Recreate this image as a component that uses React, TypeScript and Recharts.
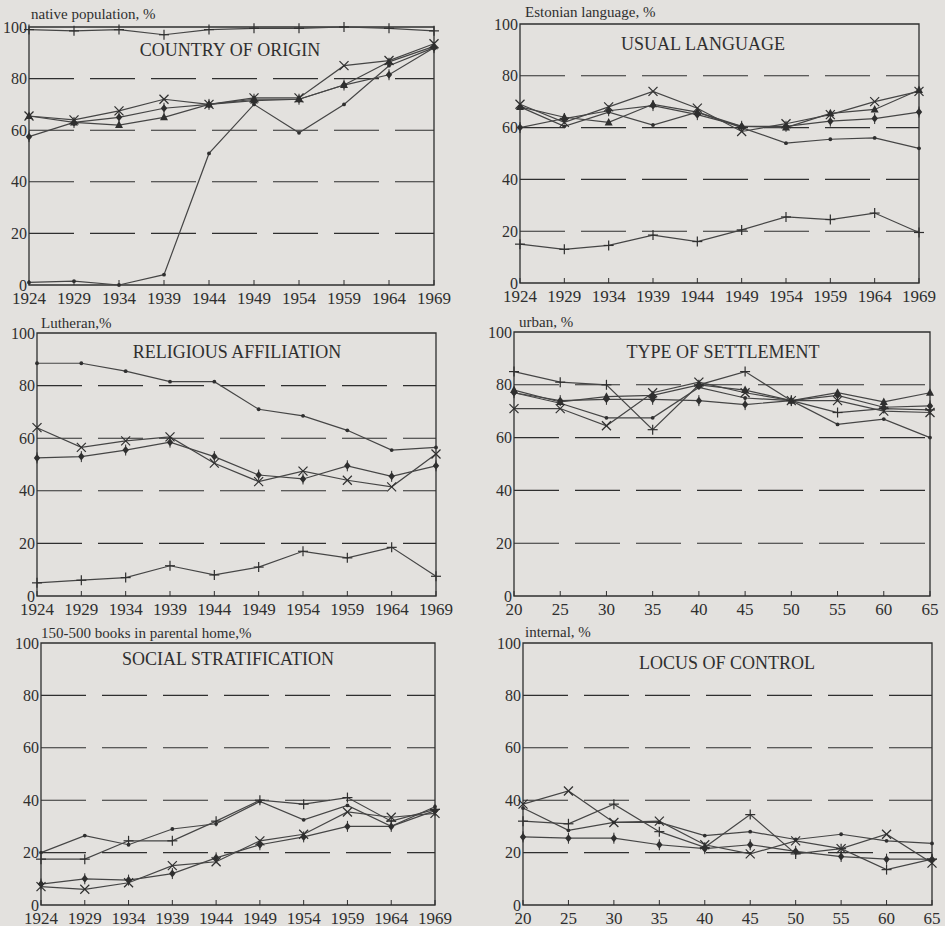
import React from 'react';
import { LineChart, Line, XAxis, YAxis, ReferenceLine, ReferenceArea } from 'recharts';

// ---- axis values ----
const YEARS = [1924, 1929, 1934, 1939, 1944, 1949, 1954, 1959, 1964, 1969];
const AGES = [20, 25, 30, 35, 40, 45, 50, 55, 60, 65];
const PCT_TICKS = [0, 20, 40, 60, 80, 100];
const GRID_LEVELS = [20, 40, 60, 80];

// ---- COUNTRY OF ORIGIN: native population, % ----
const originPlus = [99, 98.5, 99, 97, 99, 99.5, 99.5, 100, 99.5, 98.5];
const originDot = [1, 1.5, 0, 4, 51, 70, 59, 70, 85, 92];
const originCross = [65.5, 64, 67.5, 72, 70, 72.5, 72.5, 85, 87, 93.5];
const originDiamond = [57.5, 63, 65, 68.5, 70, 72, 72, 77.5, 81.5, 92];
const originTriangle = [65.5, 63, 62, 65, 70, 71.5, 72, 77.5, 86.5, 92.5];

// ---- USUAL LANGUAGE: Estonian language, % ----
const langPlus = [15, 13, 14.5, 18.5, 16, 20.5, 25.5, 24.5, 27, 19.5];
const langDot = [68, 60.5, 66, 61, 66, 60, 54, 55.5, 56, 52];
const langCross = [69, 62, 68, 74, 67.5, 58.5, 61.5, 65, 70, 74];
const langDiamond = [60, 63.5, 66.5, 68.5, 65, 60.5, 60.5, 62.5, 63.5, 66];
const langTriangle = [68, 64, 62, 69, 66, 60.5, 60, 65.5, 67, 74.5];

// ---- RELIGIOUS AFFILIATION: Lutheran, % ----
const relDot = [88.5, 88.5, 85.5, 81.5, 81.5, 71, 68.5, 63, 55.5, 56.5];
const relCross = [64, 56.5, 59, 60.5, 50.5, 43.5, 47.5, 44, 41.5, 54];
const relDiamond = [52.5, 53, 55.5, 58.5, 53, 46, 44.5, 49.5, 45.5, 49.5];
const relPlus = [5, 6, 7, 11.5, 8, 11, 17, 14.5, 18.5, 7.5];

// ---- TYPE OF SETTLEMENT: urban, % ----
const setPlus = [85, 81, 80, 63, 80, 85, 74, 69.5, 71, 70.5];
const setCross = [71, 71, 64.5, 77, 81, 77, 74, 74, 70, 69.5];
const setDot = [77, 73, 67.5, 67.5, 79, 75, 74, 65, 67, 60];
const setDiamond = [77, 74, 74.5, 74.5, 74, 72.5, 74, 76, 71.5, 72];
const setTriangle = [78, 73.5, 75.5, 76, 80, 78, 74, 77, 73.5, 77];

// ---- SOCIAL STRATIFICATION: 150-500 books in parental home, % ----
const socDot = [20, 26.5, 23, 29, 31, 39.5, 32.5, 38, 30, 37.5];
const socPlus = [17.5, 17.5, 24.5, 24.5, 32, 40, 38.5, 41, 32, 36.5];
const socCross = [7, 6, 8.5, 15, 16.5, 24.5, 27, 35.5, 33.5, 35];
const socDiamond = [8, 10, 9.5, 12, 18, 23, 26, 30, 30, 36];

// ---- LOCUS OF CONTROL: internal, % ----
const locCross = [38.5, 43.5, 31.5, 32, 23, 19.5, 24.5, 21.5, 27, 16];
const locPlus = [32, 31, 38.5, 28, 22, 34.5, 19.5, 21.5, 13.5, 17.5];
const locDot = [37, 28.5, 31.5, 31.5, 26.5, 28, 25, 27, 24.5, 23.5];
const locDiamond = [26, 25.5, 25.5, 23, 21.5, 23, 20.5, 18.5, 17.5, 17.5];

// ---- styling ----
const PAPER = '#e3e1de';
const INK = '#2f2f2f';
const LINE_INK = '#454545';
const SERIF = '"Liberation Serif", "Times New Roman", Times, serif';

type Marker = 'plus' | 'cross' | 'dot' | 'diamond' | 'triangle';
type Series = { key: string; marker: Marker; values: number[] };

function makeDot(kind: Marker) {
  return (p: any) => {
    const { cx, cy, index } = p;
    const k = `m-${kind}-${index}`;
    if (cx == null || cy == null || Number.isNaN(cx) || Number.isNaN(cy)) return <g key={k} />;
    switch (kind) {
      case 'plus':
        return (
          <g key={k} stroke={INK} strokeWidth={1.2}>
            <line x1={cx - 5} x2={cx + 5} y1={cy} y2={cy} />
            <line x1={cx} x2={cx} y1={cy - 5} y2={cy + 5} />
          </g>
        );
      case 'cross':
        return (
          <g key={k} stroke={INK} strokeWidth={1.2}>
            <line x1={cx - 4.5} x2={cx + 4.5} y1={cy - 4.5} y2={cy + 4.5} />
            <line x1={cx - 4.5} x2={cx + 4.5} y1={cy + 4.5} y2={cy - 4.5} />
          </g>
        );
      case 'dot':
        return <circle key={k} cx={cx} cy={cy} r={1.9} fill={INK} />;
      case 'diamond':
        return (
          <g key={k}>
            <line x1={cx} x2={cx} y1={cy - 5.5} y2={cy + 5.5} stroke={INK} strokeWidth={1} />
            <path d={`M${cx},${cy - 4} L${cx + 3.2},${cy} L${cx},${cy + 4} L${cx - 3.2},${cy} Z`} fill={INK} />
          </g>
        );
      case 'triangle':
      default:
        return <path key={k} d={`M${cx},${cy - 4.5} L${cx + 4},${cy + 3} L${cx - 4},${cy + 3} Z`} fill={INK} />;
    }
  };
}

const XTick = (p: any) => {
  const { x, y, payload } = p;
  return (
    <g>
      <line x1={x} x2={x} y1={y} y2={y - 5} stroke={INK} strokeWidth={1} />
      <text x={x} y={y + 18.5} textAnchor="middle" fill={INK} fontSize={17} fontFamily={SERIF}>
        {payload.value}
      </text>
    </g>
  );
};

type PanelProps = {
  L: number; R: number; T: number; B: number;
  xs: number[];
  series: Series[];
  unitLabel: string;
  unitX: number;
  unitY: number;
  title: string;
  titleX: number;
  titleY: number;
};

const Y_W = 30;
const TOP_M = 22;
const RIGHT_M = 24;
const X_H = 26;

function Panel({ L, R, T, B, xs, series, unitLabel, unitX, unitY, title, titleX, titleY }: PanelProps) {
  const left = L - Y_W;
  const top = T - TOP_M;
  const width = R - L + Y_W + RIGHT_M;
  const height = B - T + TOP_M + X_H;
  const rows = xs.map((x, i) => {
    const row: Record<string, number> = { x };
    series.forEach((s) => { row[s.key] = s.values[i]; });
    return row;
  });
  const xMin = xs[0];
  const xMax = xs[xs.length - 1];
  return (
    <>
      <div style={{ position: 'absolute', left, top, width, height }}>
        <LineChart width={width} height={height} data={rows}
          margin={{ top: TOP_M, right: RIGHT_M, bottom: 0, left: 0 }}>
          <XAxis dataKey="x" type="number" domain={[xMin, xMax]} ticks={xs}
            axisLine={false} tickLine={false} tickSize={0} tickMargin={0}
            height={X_H} interval={0} tick={<XTick />} />
          <YAxis type="number" domain={[0, 100]} ticks={PCT_TICKS} width={Y_W}
            axisLine={false} tickLine={false} tickSize={0} tickMargin={2} interval={0}
            tick={{ fill: INK, fontSize: 16, fontFamily: SERIF }} />
          {GRID_LEVELS.map((v) => (
            <ReferenceLine key={v} y={v} stroke={INK} strokeWidth={1.1} strokeDasharray="45 16" />
          ))}
          <ReferenceArea x1={xMin} x2={xMax} y1={0} y2={100} fill="none" fillOpacity={0}
            stroke={INK} strokeWidth={1.3} />
          {series.map((s) => (
            <Line key={s.key} dataKey={s.key} type="linear" stroke={LINE_INK} strokeWidth={1.2}
              dot={makeDot(s.marker)} activeDot={false} isAnimationActive={false} />
          ))}
        </LineChart>
      </div>
      <svg style={{ position: 'absolute', left: 0, top: 0, pointerEvents: 'none' }} width={945} height={926}>
        <text x={unitX} y={unitY} fill={INK} fontSize={15} fontFamily={SERIF}>{unitLabel}</text>
        <text x={titleX} y={titleY} fill={INK} fontSize={18} fontFamily={SERIF} textAnchor="middle">{title}</text>
      </svg>
    </>
  );
}

export default function App() {
  return (
    <div style={{ position: 'absolute', left: 0, top: 0, width: 945, height: 926, background: PAPER, overflow: 'hidden' }}>
      <Panel L={29} R={434} T={27} B={285} xs={YEARS}
        unitLabel="native population, %" unitX={31} unitY={18.5}
        title="COUNTRY OF ORIGIN" titleX={230} titleY={56}
        series={[
          { key: 'plus', marker: 'plus', values: originPlus },
          { key: 'dot', marker: 'dot', values: originDot },
          { key: 'diamond', marker: 'diamond', values: originDiamond },
          { key: 'triangle', marker: 'triangle', values: originTriangle },
          { key: 'cross', marker: 'cross', values: originCross },
        ]} />
      <Panel L={520} R={919} T={24} B={283} xs={YEARS}
        unitLabel="Estonian language, %" unitX={525} unitY={17}
        title="USUAL LANGUAGE" titleX={703} titleY={50}
        series={[
          { key: 'plus', marker: 'plus', values: langPlus },
          { key: 'dot', marker: 'dot', values: langDot },
          { key: 'diamond', marker: 'diamond', values: langDiamond },
          { key: 'triangle', marker: 'triangle', values: langTriangle },
          { key: 'cross', marker: 'cross', values: langCross },
        ]} />
      <Panel L={37} R={436} T={333} B={596} xs={YEARS}
        unitLabel="Lutheran,%" unitX={41} unitY={328}
        title="RELIGIOUS AFFILIATION" titleX={237} titleY={358}
        series={[
          { key: 'dot', marker: 'dot', values: relDot },
          { key: 'diamond', marker: 'diamond', values: relDiamond },
          { key: 'cross', marker: 'cross', values: relCross },
          { key: 'plus', marker: 'plus', values: relPlus },
        ]} />
      <Panel L={514} R={930} T={332} B={596} xs={AGES}
        unitLabel="urban, %" unitX={519} unitY={327}
        title="TYPE OF SETTLEMENT" titleX={723} titleY={358}
        series={[
          { key: 'plus', marker: 'plus', values: setPlus },
          { key: 'dot', marker: 'dot', values: setDot },
          { key: 'diamond', marker: 'diamond', values: setDiamond },
          { key: 'triangle', marker: 'triangle', values: setTriangle },
          { key: 'cross', marker: 'cross', values: setCross },
        ]} />
      <Panel L={41} R={435} T={643} B={905} xs={YEARS}
        unitLabel="150-500 books in parental home,%" unitX={41} unitY={638}
        title="SOCIAL STRATIFICATION" titleX={228} titleY={665}
        series={[
          { key: 'dot', marker: 'dot', values: socDot },
          { key: 'plus', marker: 'plus', values: socPlus },
          { key: 'diamond', marker: 'diamond', values: socDiamond },
          { key: 'cross', marker: 'cross', values: socCross },
        ]} />
      <Panel L={523} R={932} T={643} B={905} xs={AGES}
        unitLabel="internal, %" unitX={525} unitY={637}
        title="LOCUS OF CONTROL" titleX={727} titleY={669}
        series={[
          { key: 'dot', marker: 'dot', values: locDot },
          { key: 'diamond', marker: 'diamond', values: locDiamond },
          { key: 'plus', marker: 'plus', values: locPlus },
          { key: 'cross', marker: 'cross', values: locCross },
        ]} />
    </div>
  );
}
